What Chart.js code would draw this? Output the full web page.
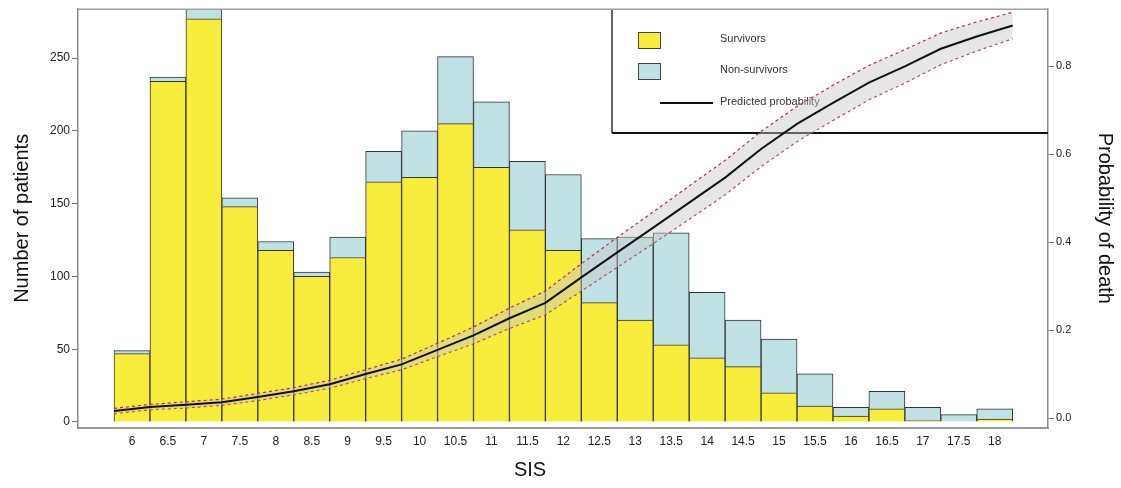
<!DOCTYPE html>
<html>
<head>
<meta charset="utf-8">
<script src="https://cdn.jsdelivr.net/npm/chart.js@4"></script>
<style>
  html, body { margin: 0; padding: 0; background: #fff; }
  #wrap { width: 1121px; height: 488px; }
</style>
</head>
<body>
<div id="wrap"><canvas id="myChart" width="1121" height="488"></canvas></div>
<script>
// SIS categories (bar centres)
const sis = [6, 6.5, 7, 7.5, 8, 8.5, 9, 9.5, 10, 10.5, 11, 11.5, 12, 12.5, 13, 13.5, 14, 14.5, 15, 15.5, 16, 16.5, 17, 17.5, 18];
// number of patients
const survivors = [47, 234, 277, 148, 118, 100, 113, 165, 168, 205, 175, 132, 118, 82, 70, 53, 44, 38, 20, 11, 4, 9, 1, 0, 2];
const nonSurvivors = [2, 3, 8, 6, 6, 3, 14, 21, 32, 46, 45, 47, 52, 44, 57, 77, 45, 32, 37, 22, 6, 12, 9, 5, 7];

// predicted probability of death (+ confidence band), at the bar edges
const probX = [5.75, 6.25, 6.75, 7.25, 7.75, 8.25, 8.75, 9.25, 9.75, 10.25, 10.75, 11.25, 11.75, 12.25, 12.75, 13.25, 13.75, 14.25, 14.75, 15.25, 15.75, 16.25, 16.75, 17.25, 17.75, 18.25];
const predicted = [0.016, 0.025, 0.030, 0.036, 0.048, 0.061, 0.077, 0.100, 0.122, 0.155, 0.188, 0.227, 0.262, 0.320, 0.377, 0.433, 0.490, 0.547, 0.612, 0.669, 0.717, 0.763, 0.800, 0.840, 0.868, 0.893];
const upperCI = [0.022, 0.031, 0.037, 0.043, 0.056, 0.069, 0.086, 0.110, 0.134, 0.170, 0.207, 0.250, 0.289, 0.351, 0.411, 0.469, 0.528, 0.586, 0.652, 0.709, 0.757, 0.802, 0.838, 0.876, 0.901, 0.923];
const lowerCI = [0.010, 0.019, 0.023, 0.029, 0.040, 0.053, 0.068, 0.090, 0.110, 0.140, 0.169, 0.204, 0.235, 0.289, 0.343, 0.397, 0.452, 0.508, 0.572, 0.629, 0.677, 0.724, 0.762, 0.804, 0.835, 0.863];

// tick labels
const xTicks = sis;
const leftTicks = [0, 50, 100, 150, 200, 250];
const rightTicks = [0, 0.2, 0.4, 0.6, 0.8];

const YELLOW = "#f8ec3c";
const BLUE = "#c0e2e5";
const FONT = "'Liberation Sans', Arial, sans-serif";

const toPoints = (xs, ys) => xs.map((x, i) => ({ x: x, y: ys[i] }));

// legend box + frame + x title
const decoPlugin = {
  id: "deco",
  beforeDatasetsDraw(chart) {
    const { ctx, chartArea } = chart;
    ctx.save();
    // legend box
    const lx = 612, ly = 133;
    ctx.strokeStyle = "#111";
    ctx.lineWidth = 1.3;
    ctx.beginPath();
    ctx.moveTo(lx, chartArea.top);
    ctx.lineTo(lx, ly);
    ctx.stroke();
    ctx.lineWidth = 2;
    ctx.beginPath();
    ctx.moveTo(lx, ly);
    ctx.lineTo(chartArea.right, ly);
    ctx.stroke();

    ctx.lineWidth = 1;
    ctx.strokeStyle = "#444";
    ctx.fillStyle = YELLOW;
    ctx.fillRect(638.5, 32.5, 22, 16);
    ctx.strokeRect(638.5, 32.5, 22, 16);
    ctx.fillStyle = BLUE;
    ctx.fillRect(638.5, 63.5, 22, 16);
    ctx.strokeRect(638.5, 63.5, 22, 16);
    ctx.strokeStyle = "#111";
    ctx.lineWidth = 2;
    ctx.beginPath();
    ctx.moveTo(660, 103);
    ctx.lineTo(713, 103);
    ctx.stroke();

    ctx.fillStyle = "#333";
    ctx.font = "11px " + FONT;
    ctx.textBaseline = "middle";
    ctx.textAlign = "left";
    ctx.fillText("Survivors", 720, 39);
    ctx.fillText("Non-survivors", 720, 70);
    ctx.fillText("Predicted probability", 720, 102);
    ctx.restore();
  },
  afterDraw(chart) {
    const { ctx, chartArea } = chart;
    ctx.save();
    // top frame line
    ctx.strokeStyle = "#a0a0a0";
    ctx.lineWidth = 1.5;
    ctx.beginPath();
    ctx.moveTo(chartArea.left, chartArea.top);
    ctx.lineTo(chartArea.right, chartArea.top);
    ctx.stroke();
    // x axis title
    ctx.fillStyle = "#111";
    ctx.font = "20px " + FONT;
    ctx.textAlign = "center";
    ctx.textBaseline = "middle";
    ctx.fillText("SIS", 530, 470);
    ctx.restore();
  },
};

const ctx = document.getElementById("myChart").getContext("2d");
const myChart = new Chart(ctx, {
  type: "bar",
  data: {
    datasets: [
      {
        type: "line",
        label: "Predicted probability",
        data: toPoints(probX, predicted),
        yAxisID: "y1",
        borderColor: "#111",
        borderWidth: 2,
        pointRadius: 0,
        tension: 0,
        fill: false,
        order: 0,
      },
      {
        type: "line",
        label: "upper",
        data: toPoints(probX, upperCI),
        yAxisID: "y1",
        borderColor: "#b03044",
        borderWidth: 1.2,
        borderDash: [3, 3],
        pointRadius: 0,
        tension: 0,
        fill: "+1",
        backgroundColor: "rgba(200, 200, 200, 0.45)",
        order: 1,
      },
      {
        type: "line",
        label: "lower",
        data: toPoints(probX, lowerCI),
        yAxisID: "y1",
        borderColor: "#b03044",
        borderWidth: 1.2,
        borderDash: [3, 3],
        pointRadius: 0,
        tension: 0,
        fill: false,
        order: 2,
      },
      {
        label: "Survivors",
        data: toPoints(sis, survivors),
        yAxisID: "y",
        stack: "s",
        backgroundColor: YELLOW,
        borderColor: "#333",
        borderWidth: 1,
        barPercentage: 1,
        categoryPercentage: 1,
        order: 3,
      },
      {
        label: "Non-survivors",
        data: toPoints(sis, nonSurvivors),
        yAxisID: "y",
        stack: "s",
        backgroundColor: BLUE,
        borderColor: "#333",
        borderWidth: 1,
        barPercentage: 1,
        categoryPercentage: 1,
        order: 4,
      },
    ],
  },
  options: {
    responsive: false,
    animation: false,
    layout: { padding: { top: 8, left: 0, right: 0, bottom: 0 } },
    plugins: {
      legend: { display: false },
      tooltip: { enabled: false },
    },
    scales: {
      x: {
        type: "linear",
        position: "bottom",
        offset: false,
        min: 5.249,
        max: 18.741,
        afterBuildTicks: (scale) => {
          scale.ticks = xTicks.map((v) => ({ value: v }));
        },
        afterFit: (scale) => {
          scale.height = 60.5;
        },
        grid: { display: false, offset: false, drawTicks: false },
        border: { display: true, color: "#9a9a9a", width: 2 },
        ticks: {
          color: "#222",
          font: { family: "'Liberation Sans Narrow', " + FONT, size: 12 },
          padding: 7,
          maxRotation: 0,
          autoSkip: false,
          callback: (v) => String(v),
        },
      },
      y: {
        type: "linear",
        position: "left",
        stacked: true,
        min: -3.8,
        max: 283.6,
        afterBuildTicks: (scale) => {
          scale.ticks = leftTicks.map((v) => ({ value: v }));
        },
        afterFit: (scale) => {
          scale.width = 78;
        },
        grid: {
          drawOnChartArea: false,
          drawTicks: true,
          tickLength: 6,
          color: "#777",
        },
        border: { display: true, color: "#8a8a8a", width: 1.5 },
        ticks: {
          color: "#222",
          font: { family: FONT, size: 12 },
          padding: 2,
        },
        title: {
          display: true,
          text: "Number of patients",
          color: "#111",
          font: { family: FONT, size: 20 },
          padding: { top: 10, bottom: 0 },
        },
      },
      y1: {
        type: "linear",
        position: "right",
        min: -0.0215,
        max: 0.93,
        afterBuildTicks: (scale) => {
          scale.ticks = rightTicks.map((v) => ({ value: v }));
        },
        afterFit: (scale) => {
          scale.width = 73;
        },
        grid: {
          drawOnChartArea: false,
          drawTicks: true,
          tickLength: 6,
          color: "#777",
        },
        border: { display: true, color: "#8a8a8a", width: 1.5 },
        ticks: {
          color: "#222",
          font: { family: FONT, size: 11 },
          padding: 2,
          callback: (v) => v.toFixed(1),
        },
        title: {
          display: true,
          text: "Probability of death",
          color: "#111",
          font: { family: FONT, size: 20 },
          padding: { top: 4, bottom: 0 },
        },
      },
    },
  },
  plugins: [decoPlugin],
});
</script>
</body>
</html>
